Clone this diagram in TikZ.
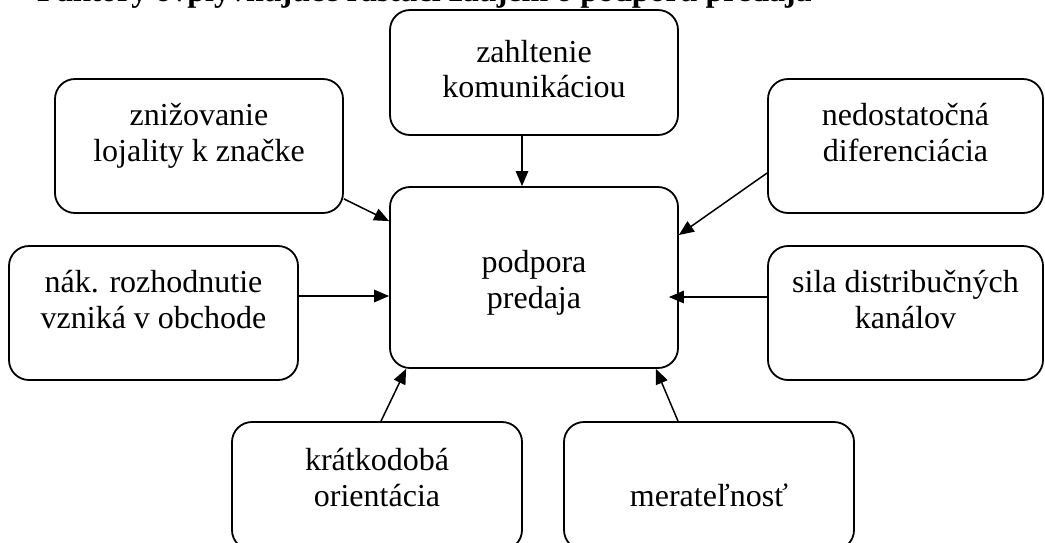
\documentclass[tikz,border=0pt]{standalone}
\usepackage{fontspec}
\setmainfont{Liberation Serif}
\usetikzlibrary{arrows.meta}
\tikzset{
  box/.style={draw, line width=1.8pt, rounded corners=20pt, rectangle, inner sep=0pt},
  txt/.style={anchor=base, inner sep=0pt, font=\fontsize{32}{36}\selectfont},
  arr/.style={line width=1.5pt, -{Triangle[length=15pt,width=12.5pt]}}
}
\begin{document}
\begin{tikzpicture}[x=1pt,y=-1pt]
\useasboundingbox (0,0) rectangle (1045,542);
\clip (0,0) rectangle (1045,542);
% title (cut off at top)
\node[anchor=base west, inner sep=0pt, font=\fontsize{32}{36}\selectfont\bfseries] (title) at (37,1) {Faktory ovplyvňujúce rastúci záujem o podporu predaja};
% boxes
\node[box, minimum width=288pt, minimum height=125pt] (A) at (534,72.5) {};
\node[box, minimum width=288pt, minimum height=134pt] (B) at (199,146) {};
\node[box, minimum width=289pt, minimum height=134pt] (C) at (153.5,313) {};
\node[box, minimum width=288pt, minimum height=181pt] (D) at (534,277.5) {};
\node[box, minimum width=275pt, minimum height=134pt] (E) at (905.5,146) {};
\node[box, minimum width=275pt, minimum height=134pt] (F) at (905.5,313) {};
\node[box, minimum width=290pt, minimum height=128pt] (G) at (377,486) {};
\node[box, minimum width=290pt, minimum height=128pt] (H) at (709,486) {};
% texts
\node[txt] (A1) at (534,62) {zahltenie};
\node[txt] (A2) at (534,97) {komunikáciou};
\node[txt] (B1) at (199,125) {znižovanie};
\node[txt] (B2) at (199,161) {lojality k značke};
\node[txt] (C1) at (153.5,292) {nák. rozhodnutie};
\node[txt] (C2) at (153.5,328) {vzniká v obchode};
\node[txt] (D1) at (534,272) {podpora};
\node[txt] (D2) at (534,308) {predaja};
\node[txt] (E1) at (905.5,125) {nedostatočná};
\node[txt] (E2) at (905.5,161) {diferenciácia};
\node[txt] (F1) at (905.5,292) {sila distribučných};
\node[txt] (F2) at (905.5,328) {kanálov};
\node[txt] (G1) at (377,470) {krátkodobá};
\node[txt] (G2) at (377,506) {orientácia};
\node[txt] (H1) at (709,506) {merateľnosť};
% connectors
\draw[arr] ([xshift=-12pt]A.south) -- ([xshift=-12pt]D.north);
\draw[arr] ([yshift=15pt]B.south east) -- ([yshift=-35pt]D.north west);
\draw[arr] ([yshift=17pt]C.east) -- ([yshift=-18.5pt]D.west);
\draw[arr] ([yshift=-27pt]E.west) -- ([yshift=42.5pt]D.east);
\draw[arr] ([yshift=16pt]F.west) -- ([xshift=-10pt,yshift=-19.5pt]D.east);
\draw[arr] ([xshift=4pt]G.north) -- ([xshift=17pt]D.south west);
\draw[arr] ([xshift=-31pt]H.north) -- ([xshift=-23pt]D.south east);
\end{tikzpicture}
\end{document}
